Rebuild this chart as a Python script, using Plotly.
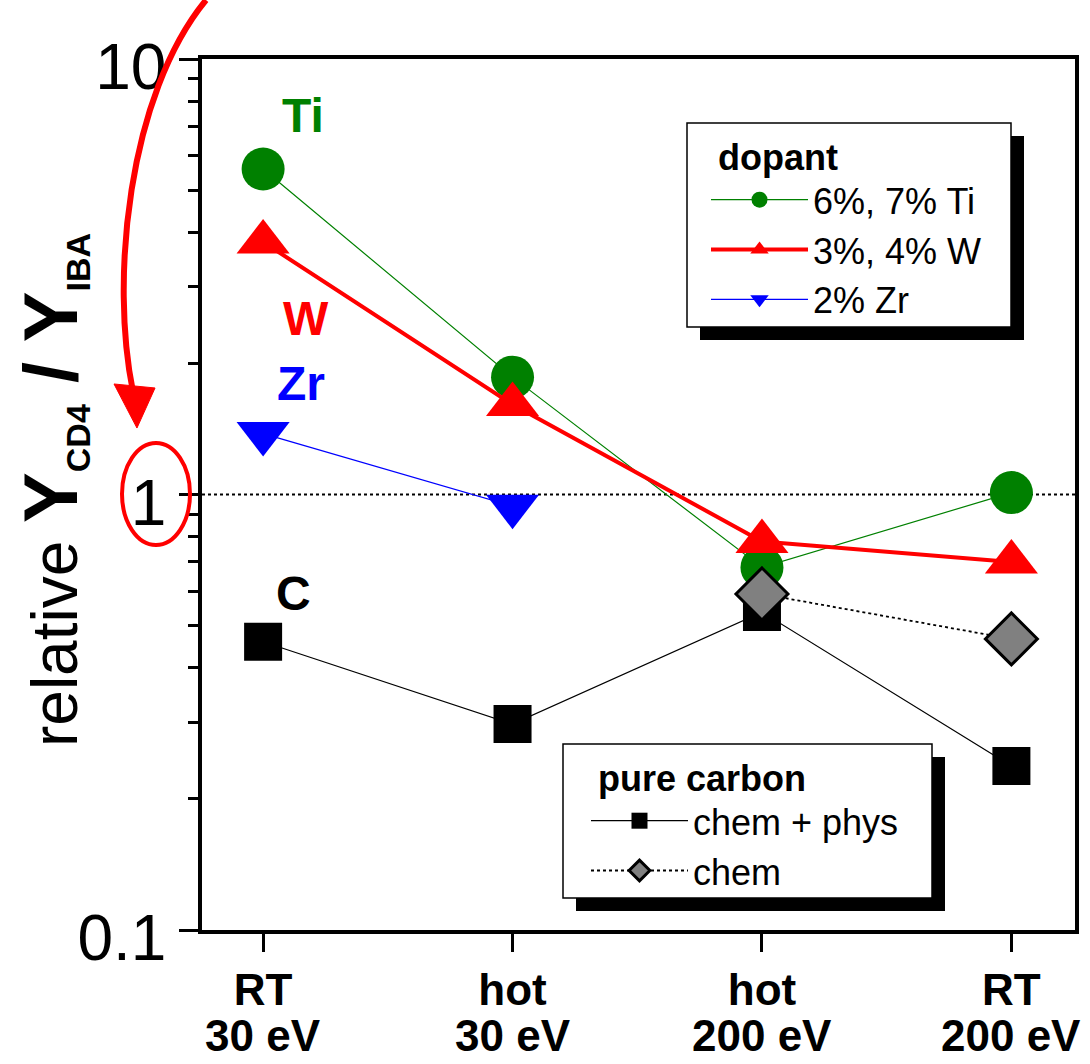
import plotly.graph_objects as go

# ---- data -------------------------------------------------------------
cond_temp = ["RT", "hot", "hot", "RT"]
cond_energy = ["30 eV", "30 eV", "200 eV", "200 eV"]

ti_yield = [5.59, 1.86, 0.68, 1.01]        # 6%, 7% Ti
w_yield = [3.80, 1.61, 0.78, 0.70]         # 3%, 4% W
zr_yield = [1.38, 0.94]                    # 2% Zr (RT and hot at 30 eV only)
c_chem_phys = [0.459, 0.297, 0.537, 0.238] # pure carbon, chem + phys
c_chem = [0.591, 0.466]                    # pure carbon, chem (200 eV only)

x_idx = list(range(len(cond_temp)))
x_zr = x_idx[:len(zr_yield)]
x_chem = x_idx[-len(c_chem):]

FONT = "Liberation Sans, Arial, sans-serif"
W_PX, H_PX = 1090, 1064
L, R, T, B = 202, 1075, 59, 930   # plot-area edges in pixels


def px_x(p):
    return (p - L) / (R - L)


def px_y(p):
    return (B - p) / (B - T)


fig = go.Figure()

fig.add_trace(go.Scatter(
    x=x_idx, y=c_chem_phys, name="chem + phys", legend="legend2",
    mode="lines+markers", line=dict(color="black", width=1.2),
    marker=dict(symbol="square", size=38, color="black")))

fig.add_trace(go.Scatter(
    x=x_idx, y=ti_yield, name="6%, 7% Ti", legend="legend",
    mode="lines+markers", line=dict(color="#008000", width=1.2),
    marker=dict(symbol="circle", size=43, color="#008000")))

fig.add_trace(go.Scatter(
    x=x_idx, y=w_yield, name="3%, 4% W", legend="legend",
    mode="lines+markers", line=dict(color="#ff0000", width=4),
    marker=dict(symbol="triangle-up", size=46, color="#ff0000")))

fig.add_trace(go.Scatter(
    x=x_zr, y=zr_yield, name="2% Zr", legend="legend",
    mode="lines+markers", line=dict(color="#0000ff", width=1.2),
    marker=dict(symbol="triangle-down", size=46, color="#0000ff")))

fig.add_trace(go.Scatter(
    x=x_chem, y=c_chem, name="chem", legend="legend2",
    mode="lines+markers", line=dict(color="black", width=1.8, dash="dot"),
    marker=dict(symbol="diamond", size=40, color="#808080",
                line=dict(color="black", width=3))))

# reference level: yield equal to 1
fig.add_shape(type="line", xref="paper", x0=0, x1=1, yref="y", y0=1, y1=1,
              line=dict(color="black", width=2, dash="dot"), layer="below")

# legend frames with drop shadows
legend_frames = [((687, 123, 1011, 327), 13), ((563, 744, 932, 898), 13)]
for (x0, y0, x1, y1), off in legend_frames:
    fig.add_shape(type="rect", xref="paper", yref="paper",
                  x0=px_x(x0 + off), x1=px_x(x1 + off),
                  y0=px_y(y1 + off), y1=px_y(y0 + off),
                  fillcolor="black", line=dict(width=0), layer="above")
    fig.add_shape(type="rect", xref="paper", yref="paper",
                  x0=px_x(x0), x1=px_x(x1), y0=px_y(y1), y1=px_y(y0),
                  fillcolor="white", line=dict(color="black", width=1.5),
                  layer="above")

# red ring around the unity tick label
fig.add_shape(type="circle", xref="paper", yref="paper",
              x0=px_x(122), x1=px_x(190), y0=px_y(545), y1=px_y(443),
              line=dict(color="#ff0000", width=4))

# curved red arrow pointing at the unity label
arrow_path = "M {:.4f},{:.4f} C {:.4f},{:.4f} {:.4f},{:.4f} {:.4f},{:.4f}".format(
    px_x(206), px_y(0), px_x(128), px_y(95), px_x(110), px_y(280),
    px_x(133), px_y(392))
fig.add_shape(type="path", xref="paper", yref="paper", path=arrow_path,
              line=dict(color="#ff0000", width=6))
head_path = "M {:.4f},{:.4f} L {:.4f},{:.4f} L {:.4f},{:.4f} Z".format(
    px_x(137), px_y(428), px_x(114), px_y(384), px_x(155), px_y(388))
fig.add_shape(type="path", xref="paper", yref="paper", path=head_path,
              fillcolor="#ff0000", line=dict(color="#ff0000", width=1))

# element labels next to the first points
labels = [("Ti", "#008000", 303, 116), ("W", "#ff0000", 306, 318),
          ("Zr", "#0000ff", 301, 384), ("C", "black", 293, 593)]
for txt, col, lx, ly in labels:
    fig.add_annotation(text=f"<b>{txt}</b>", xref="paper", yref="paper",
                       x=px_x(lx), y=px_y(ly), showarrow=False,
                       xanchor="center", yanchor="middle",
                       font=dict(size=48, color=col, family=FONT))

# second row of the category labels (ion energy)
for i, e in enumerate(cond_energy):
    fig.add_annotation(text=f"<b>{e}</b>", xref="x", yref="paper",
                       x=x_idx[i], y=px_y(1035), showarrow=False,
                       xanchor="center", yanchor="middle",
                       font=dict(size=44, color="black", family=FONT))

# y-axis title
fig.add_annotation(
    text=("relative <b><span style='font-size:76px'>Y</span>"
          "<sub><span style='font-size:34px'>CD4</span></sub>"
          "<span style='font-size:76px'> / Y</span>"
          "<sub><span style='font-size:34px'>IBA</span></sub></b>"),
    xref="paper", yref="paper", x=px_x(52), y=px_y(490), textangle=-90,
    showarrow=False, xanchor="center", yanchor="middle",
    font=dict(size=64, color="black", family=FONT))

minor_vals = [m * 10.0 ** e for e in (-1, 0) for m in range(2, 10)]

fig.update_xaxes(
    range=[-0.245, 3.255], tickmode="array", tickvals=x_idx, ticktext=cond_temp,
    ticks="outside", ticklen=18, tickwidth=3, tickcolor="black",
    showline=True, linewidth=3.5, linecolor="black", mirror=True,
    showgrid=False, zeroline=False,
    tickfont=dict(size=44, color="black", family=FONT, weight="bold"))

fig.update_yaxes(
    type="log", range=[-1, 1], tickmode="array",
    tickvals=[0.1, 1, 10], ticktext=["0.1", "1", "10"],
    ticks="outside", ticklen=19, tickwidth=3, tickcolor="black",
    ticklabelshift=8,
    minor=dict(tickmode="array", tickvals=minor_vals, ticks="outside",
               ticklen=10, tickwidth=3, tickcolor="black", showgrid=False),
    showline=True, linewidth=3.5, linecolor="black", mirror=True,
    showgrid=False, zeroline=False,
    tickfont=dict(size=64, color="black", family=FONT))

legend_common = dict(
    xanchor="left", yanchor="top", bgcolor="rgba(0,0,0,0)",
    borderwidth=0, itemwidth=97, traceorder="normal",
    font=dict(size=36, color="black", family=FONT))

fig.update_layout(
    width=W_PX, height=H_PX,
    margin=dict(l=L, r=W_PX - R, t=T, b=H_PX - B),
    paper_bgcolor="white", plot_bgcolor="white",
    font=dict(family=FONT, color="black"),
    showlegend=True,
    legend=dict(x=px_x(706), y=px_y(123),
                title=dict(text="&nbsp;<b>dopant</b>",
                           font=dict(size=36, family=FONT)),
                **legend_common),
    legend2=dict(x=px_x(586), y=px_y(744),
                 title=dict(text="&nbsp;<b>pure carbon</b>",
                            font=dict(size=36, family=FONT)),
                 **legend_common),
)

fig.write_html("out.html")
